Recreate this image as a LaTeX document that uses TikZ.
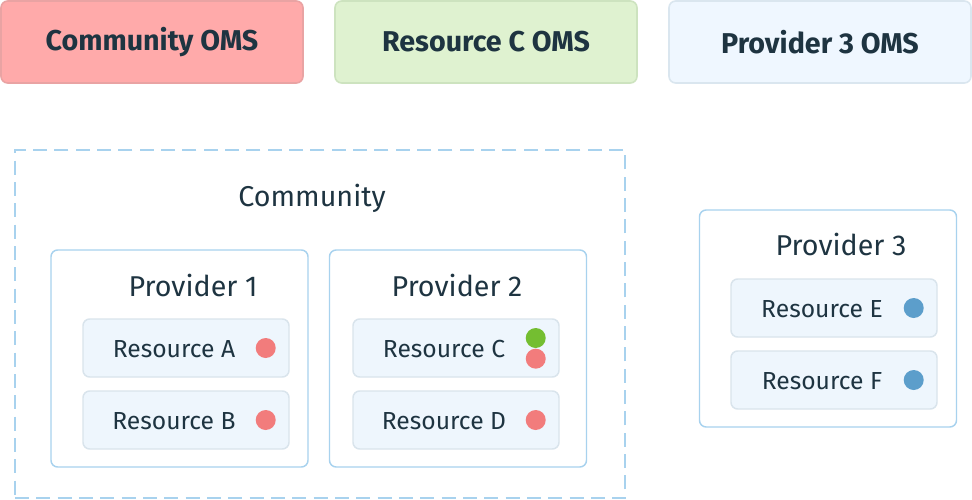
\documentclass[tikz,border=0pt]{standalone}
\usepackage{fontspec}
\setmainfont{Fira Sans}
\usepackage{tikz}
\usetikzlibrary{positioning}

\definecolor{ink}{HTML}{1E3441}
\definecolor{omsred}{HTML}{FFAAAA}
\definecolor{omsredline}{HTML}{E9A3A3}
\definecolor{omsgreen}{HTML}{DFF2D0}
\definecolor{omsgreenline}{HTML}{CDE3BF}
\definecolor{omsblue}{HTML}{EFF7FF}
\definecolor{omsblueline}{HTML}{DAE6EF}
\definecolor{frameblue}{HTML}{A8D2EE}
\definecolor{resfill}{HTML}{EEF6FD}
\definecolor{resline}{HTML}{D9E4EC}
\definecolor{dotred}{HTML}{F27C7C}
\definecolor{dotgreen}{HTML}{74BE31}
\definecolor{dotblue}{HTML}{5C9ECB}

\tikzset{
  omsbox/.style={draw, line width=1.2pt, rounded corners=5pt,
    minimum width=226.5pt, minimum height=61.5pt, text=ink,
    font=\fontsize{21.5}{24}\selectfont\bfseries},
  provbox/.style={draw=frameblue, fill=white, line width=1.1pt, rounded corners=5pt,
    minimum width=192.75pt, minimum height=162.75pt},
  resbox/.style={draw=resline, fill=resfill, line width=1.1pt, rounded corners=5pt,
    minimum width=154.5pt, minimum height=43.5pt},
  bigtext/.style={text=ink, font=\fontsize{21.5}{25}\selectfont},
  restext/.style={text=ink, font=\fontsize{18.5}{22}\selectfont},
  dot/.style={circle, inner sep=0pt, minimum size=15pt}
}

\begin{document}
\begin{tikzpicture}[x=0.75pt, y=-0.75pt]
  \useasboundingbox (0,0) rectangle (972,500);

  % OMS boxes on top
  \node[omsbox, draw=omsredline, fill=omsred] (comoms) at (152,42) {Community OMS};
  \node[omsbox, draw=omsgreenline, fill=omsgreen] (resoms) at (486,42) {Resource C OMS};
  \node[omsbox, draw=omsblueline, fill=omsblue] (provoms) at (820,42) {Provider 3 OMS};

  % Community frame
  \node[draw=frameblue, line width=1.1pt, dash pattern=on 10.5pt off 5.5pt,
    minimum width=457.5pt, minimum height=261pt] (community) at (320,324) {};
  \node[bigtext] (comlabel) at (312,198) {Community};

  % Providers
  \node[provbox] (prov1) at (179.5,358.5) {};
  \node[provbox] (prov2) at (458,358.5) {};
  \node[provbox] (prov3) at (828,318.5) {};
  \node[bigtext] (prov1label) at (193,285) {Provider 1};
  \node[bigtext] (prov2label) at (457,285) {Provider 2};
  \node[bigtext] (prov3label) at (841,244) {Provider 3};

  % Resources
  \foreach \id/\x/\y in {A/186/348, B/186/420, C/456/348, D/456/420, E/834/308, F/834/380}{
    \node[resbox] (res\id) at (\x,\y) {};
    \node[restext] (res\id label) at ([xshift=-9pt, yshift=-1pt]res\id.center) {Resource \id};
  }

  % Status dots
  \foreach \id/\c in {A/dotred, B/dotred, D/dotred, E/dotblue, F/dotblue}
    \node[dot, fill=\c] (dot\id) at ([xshift=-18pt]res\id.east) {};
  \node[dot, fill=dotgreen] (dotC1) at ([xshift=-18pt, yshift=7.5pt]resC.east) {};
  \node[dot, fill=dotred] (dotC2) at ([xshift=-18pt, yshift=-8pt]resC.east) {};
\end{tikzpicture}
\end{document}
